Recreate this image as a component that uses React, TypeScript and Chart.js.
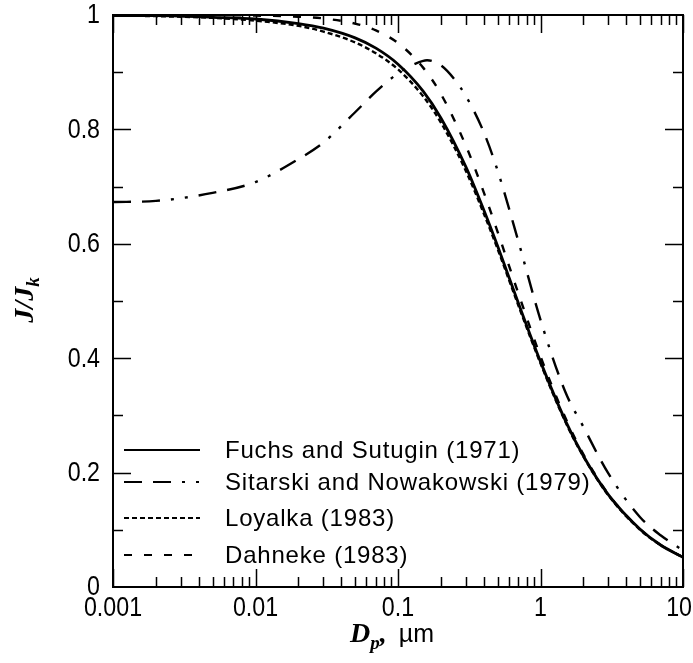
import React, { useEffect, useRef } from "react";
import { Chart, registerables } from "chart.js";

Chart.register(...registerables);

// Particle diameter (µm) grid shared by three of the curves
const diameters = [0.001, 0.002, 0.005, 0.01, 0.02, 0.03, 0.05, 0.07, 0.1, 0.15, 0.2, 0.3, 0.4, 0.5, 0.7, 1, 1.5, 2, 3, 5, 7, 10];
const fuchsSutugin = [0.999, 0.999, 0.996, 0.993, 0.985, 0.977, 0.96, 0.942, 0.914, 0.867, 0.82, 0.734, 0.659, 0.596, 0.496, 0.394, 0.29, 0.229, 0.161, 0.101, 0.073, 0.052];
const loyalka = [0.999, 0.998, 0.995, 0.99, 0.981, 0.971, 0.952, 0.933, 0.905, 0.858, 0.812, 0.727, 0.653, 0.591, 0.492, 0.391, 0.288, 0.228, 0.16, 0.1, 0.073, 0.052];
const dahneke = [1.0, 1.0, 1.0, 0.999, 0.997, 0.994, 0.985, 0.973, 0.951, 0.908, 0.862, 0.771, 0.69, 0.621, 0.513, 0.403, 0.295, 0.232, 0.162, 0.101, 0.073, 0.052];

// Sitarski and Nowakowski curve, read on its own grid
const sitarskiDiameters = [0.001, 0.002, 0.005, 0.01, 0.02, 0.03, 0.05, 0.07, 0.1, 0.13, 0.16, 0.2, 0.25, 0.3, 0.4, 0.5, 0.7, 1, 1.5, 2, 3, 5, 7, 10];
const sitarski = [0.673, 0.675, 0.689, 0.708, 0.748, 0.777, 0.83, 0.866, 0.898, 0.914, 0.921, 0.912, 0.887, 0.858, 0.795, 0.728, 0.604, 0.467, 0.34, 0.28, 0.198, 0.122, 0.09, 0.064];

const seriesNames = [
  "Fuchs and Sutugin (1971)",
  "Sitarski and Nowakowski (1979)",
  "Loyalka (1983)",
  "Dahneke (1983)",
];

const xDecades = [0.001, 0.01, 0.1, 1, 10];
const xTickLabels = ["0.001", "0.01", "0.1", "1", "10"];
const yTicks = [0, 0.2, 0.4, 0.6, 0.8, 1];
const yTickLabels = ["0", "0.2", "0.4", "0.6", "0.8", "1"];

const dashes: number[][] = [[], [18, 11, 18, 11, 3, 11, 3, 11], [5, 3], [8, 12]];

function pts(xs: number[], ys: number[]) {
  return xs.map((x, i) => ({ x, y: ys[i] }));
}

function condensedText(ctx: CanvasRenderingContext2D, text: string, x: number, y: number, align: "center" | "right") {
  const sx = 0.86;
  ctx.save();
  ctx.translate(x, y);
  ctx.scale(sx, 1);
  ctx.textAlign = align;
  ctx.fillText(text, 0, 0);
  ctx.restore();
}

const decorations = {
  id: "decorations",
  afterDraw(chart: any) {
    const { ctx, chartArea: a, scales, width } = chart;
    const xs = scales.x;
    const ys = scales.y;
    ctx.save();
    ctx.strokeStyle = "#000";
    ctx.fillStyle = "#000";
    ctx.setLineDash([]);
    // frame
    ctx.lineWidth = 2;
    ctx.strokeRect(a.left, a.top, a.right - a.left, a.bottom - a.top);
    // x ticks (log, inside, mirrored)
    ctx.lineWidth = 1.5;
    for (let d = 0; d < xDecades.length; d++) {
      const base = xDecades[d];
      for (let m = 1; m <= 9; m++) {
        if (d === xDecades.length - 1 && m > 1) break;
        const v = base * m;
        const px = Math.round(xs.getPixelForValue(v)) + 0.5;
        const len = m === 1 ? 18 : 10;
        ctx.beginPath();
        ctx.moveTo(px, a.bottom);
        ctx.lineTo(px, a.bottom - len);
        ctx.moveTo(px, a.top);
        ctx.lineTo(px, a.top + len);
        ctx.stroke();
      }
    }
    // y ticks (inside, mirrored)
    for (let i = 1; i < 10; i++) {
      const py = Math.round(ys.getPixelForValue(i / 10)) + 0.5;
      const len = i % 2 === 0 ? 18 : 10;
      ctx.beginPath();
      ctx.moveTo(a.left, py);
      ctx.lineTo(a.left + len, py);
      ctx.moveTo(a.right, py);
      ctx.lineTo(a.right - len, py);
      ctx.stroke();
    }

    // tick labels
    ctx.font = "27px 'Liberation Sans', Arial, sans-serif";
    ctx.textBaseline = "middle";
    for (let i = 0; i < xDecades.length; i++) {
      const px = xs.getPixelForValue(xDecades[i]);
      if (i === xDecades.length - 1) {
        condensedText(ctx, xTickLabels[i], width - 1, a.bottom + 22, "right");
      } else {
        condensedText(ctx, xTickLabels[i], px, a.bottom + 22, "center");
      }
    }
    for (let i = 0; i < yTicks.length; i++) {
      condensedText(ctx, yTickLabels[i], a.left - 13, ys.getPixelForValue(yTicks[i]) + 1, "right");
    }

    // legend
    const rowY = [450, 482, 518, 555];
    ctx.font = "24px 'Liberation Sans', Arial, sans-serif";
    (ctx as any).letterSpacing = "0.8px";
    ctx.textBaseline = "middle";
    ctx.textAlign = "left";
    for (let i = 0; i < seriesNames.length; i++) {
      ctx.lineWidth = 2.2;
      ctx.setLineDash(dashes[i]);
      ctx.beginPath();
      ctx.moveTo(124, rowY[i]);
      ctx.lineTo(200, rowY[i]);
      ctx.stroke();
      ctx.setLineDash([]);
      ctx.fillText(seriesNames[i], 225, rowY[i] + 1);
    }
    (ctx as any).letterSpacing = "0px";

    // x title: D_p, µm
    const cx = 392;
    const base = 642;
    ctx.textBaseline = "alphabetic";
    ctx.textAlign = "left";
    const fMain = "italic bold 28px 'Liberation Serif', serif";
    const fSub = "italic bold 19px 'Liberation Serif', serif";
    const fUnit = "25px 'Liberation Sans', Arial, sans-serif";
    ctx.font = fMain;
    const wD = ctx.measureText("D").width;
    ctx.font = fSub;
    const wp = ctx.measureText("p").width;
    ctx.font = fMain;
    const wc = ctx.measureText(",").width;
    const gap = 12;
    ctx.font = fUnit;
    const wu = ctx.measureText("µm").width;
    let x0 = cx - (wD + wp + wc + gap + wu) / 2;
    ctx.font = fMain;
    ctx.fillText("D", x0, base);
    x0 += wD;
    ctx.font = fSub;
    ctx.fillText("p", x0, base + 7);
    x0 += wp;
    ctx.font = fMain;
    ctx.fillText(",", x0, base);
    x0 += wc + gap;
    ctx.font = fUnit;
    ctx.fillText("µm", x0, base);

    // y title: J/J_k rotated
    ctx.save();
    ctx.translate(33, 300);
    ctx.rotate(-Math.PI / 2);
    ctx.font = fMain;
    const wJ = ctx.measureText("J/J").width;
    ctx.font = fSub;
    const wk = ctx.measureText("k").width;
    const y0 = -(wJ + wk) / 2;
    ctx.font = fMain;
    ctx.fillText("J/J", y0, 0);
    ctx.font = fSub;
    ctx.fillText("k", y0 + wJ, 6);
    ctx.restore();

    ctx.restore();
  },
};

export default function App() {
  const ref = useRef<HTMLCanvasElement | null>(null);
  useEffect(() => {
    if (!ref.current) return;
    const common = {
      pointRadius: 0,
      borderColor: "#000",
      borderWidth: 2.4,
      cubicInterpolationMode: "monotone" as const,
      fill: false,
    };
    const chart = new Chart(ref.current, {
      type: "line",
      data: {
        datasets: [
          { ...common, label: seriesNames[0], data: pts(diameters, fuchsSutugin), borderDash: dashes[0], borderWidth: 2.8 },
          { ...common, label: seriesNames[1], data: pts(sitarskiDiameters, sitarski), borderDash: dashes[1] },
          { ...common, label: seriesNames[2], data: pts(diameters, loyalka), borderDash: dashes[2] },
          { ...common, label: seriesNames[3], data: pts(diameters, dahneke), borderDash: dashes[3] },
        ],
      },
      options: {
        animation: false,
        responsive: false,
        devicePixelRatio: 1,
        layout: { padding: { top: 15, right: 10, left: 0, bottom: 0 } },
        plugins: { legend: { display: false }, tooltip: { enabled: false } },
        scales: {
          x: {
            type: "logarithmic",
            min: 0.001,
            max: 10,
            grid: { display: false, drawTicks: false },
            border: { display: false },
            ticks: { display: false },
            afterFit: (s: any) => {
              s.height = 76;
            },
          },
          y: {
            type: "linear",
            min: 0,
            max: 1,
            grid: { display: false, drawTicks: false },
            border: { display: false },
            ticks: { display: false },
            afterFit: (s: any) => {
              s.width = 113;
            },
          },
        },
      },
      plugins: [decorations],
    });
    return () => chart.destroy();
  }, []);
  return (
    <div style={{ position: "absolute", left: 0, top: 0, width: 693, height: 663, background: "#fff" }}>
      <canvas ref={ref} width={693} height={663} style={{ display: "block" }} />
    </div>
  );
}
